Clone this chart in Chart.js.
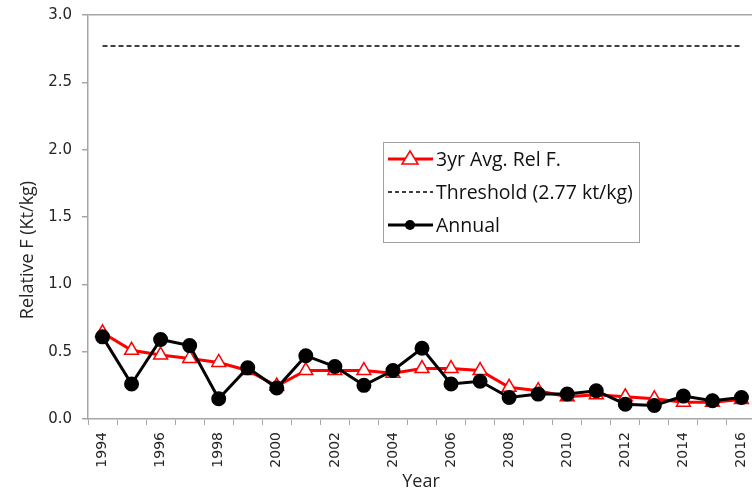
<!DOCTYPE html>
<html>
<head>
<meta charset="utf-8">
<script src="https://cdn.jsdelivr.net/npm/chart.js@4.4.1/dist/chart.umd.min.js"></script>
<style>
  html, body { margin: 0; padding: 0; background: #fff; overflow: hidden; }
  #wrap { width: 752px; height: 492px; overflow: hidden; }
</style>
</head>
<body>
<div id="wrap"><canvas id="myChart" width="756" height="492"></canvas></div>
<script>
// chart data
var years = ['1994','1995','1996','1997','1998','1999','2000','2001','2002','2003','2004','2005',
             '2006','2007','2008','2009','2010','2011','2012','2013','2014','2015','2016'];
var avg3yr = [0.64, 0.51, 0.475, 0.45, 0.42, 0.36, 0.245, 0.36, 0.36, 0.36, 0.34, 0.375,
              0.375, 0.36, 0.235, 0.21, 0.165, 0.18, 0.165, 0.15, 0.125, 0.125, 0.145];
var annual = [0.61, 0.26, 0.59, 0.545, 0.15, 0.38, 0.23, 0.47, 0.39, 0.25, 0.36, 0.525,
              0.26, 0.28, 0.16, 0.185, 0.185, 0.21, 0.11, 0.10, 0.17, 0.135, 0.16];
var threshold = 2.77;
var thresholdLine = years.map(function () { return threshold; });
var legendLabels = ['3yr Avg. Rel F.', 'Threshold (2.77 kt/kg)', 'Annual'];
var xTitle = 'Year';
var yTitle = 'Relative F (Kt/kg)';

var axisGray = '#a6a6a6';
var textCol = '#262626';
var font = '"Open Sans", sans-serif';
var tickFont = '"DejaVu Sans", Verdana, sans-serif';

// legend box + axis titles, drawn like the excel original
var boxLegend = {
    id: 'boxLegend',
    afterDraw: function (chart) {
        var c = chart.ctx;
        var x = 383, y = 142, w = 256, h = 100;
        c.save();
        c.fillStyle = '#fff';
        c.fillRect(x, y, w, h);
        c.strokeStyle = '#a0a0a0';
        c.lineWidth = 1;
        c.strokeRect(x + 0.5, y + 0.5, w, h);
        c.font = '19.5px ' + font;
        c.textBaseline = 'middle';
        var rows = [159, 192, 225];
        for (var i = 0; i < 3; i++) {
            var ry = rows[i];
            c.beginPath();
            if (i === 1) {
                c.setLineDash([4, 3]);
                c.lineWidth = 1.5;
                c.strokeStyle = '#000';
            } else {
                c.setLineDash([]);
                c.lineWidth = 3;
                c.strokeStyle = i === 0 ? '#ff0000' : '#000';
            }
            c.moveTo(388, ry);
            c.lineTo(433, ry);
            c.stroke();
            c.setLineDash([]);
            if (i === 0) {
                c.beginPath();
                c.moveTo(410, ry - 8);
                c.lineTo(418, ry + 5);
                c.lineTo(402, ry + 5);
                c.closePath();
                c.fillStyle = '#fff';
                c.fill();
                c.lineWidth = 1.5;
                c.strokeStyle = '#ff0000';
                c.stroke();
            } else if (i === 2) {
                c.beginPath();
                c.arc(410, ry, 5, 0, Math.PI * 2);
                c.fillStyle = '#000';
                c.fill();
            }
            c.fillStyle = '#111';
            c.fillText(legendLabels[i], 436, ry + 1);
        }

        // axis titles
        c.fillStyle = textCol;
        c.font = '18px ' + font;
        c.textAlign = 'center';
        c.textBaseline = 'middle';
        c.fillText(xTitle, 421, 482);
        c.translate(28, 250);
        c.rotate(-Math.PI / 2);
        c.fillText(yTitle, 0, 0);
        c.restore();
    }
};

var ctx = document.getElementById('myChart').getContext('2d');

var myChart = new Chart(ctx, {
    type: 'line',
    data: {
        labels: years,
        datasets: [{
            label: legendLabels[0],
            data: avg3yr,
            borderColor: '#ff0000',
            borderWidth: 3,
            pointStyle: 'triangle',
            pointRadius: 8,
            pointBackgroundColor: '#ffffff',
            pointBorderColor: '#ff0000',
            pointBorderWidth: 1.5,
            tension: 0,
            order: 1
        }, {
            label: legendLabels[1],
            data: thresholdLine,
            borderColor: '#000',
            borderWidth: 1.5,
            borderDash: [5, 3],
            pointRadius: 0,
            order: 2
        }, {
            label: legendLabels[2],
            data: annual,
            borderColor: '#000',
            borderWidth: 3,
            pointStyle: 'circle',
            pointRadius: 6,
            pointBackgroundColor: '#000',
            pointBorderColor: '#000',
            tension: 0,
            order: 0
        }]
    },
    options: {
        responsive: false,
        animation: false,
        layout: { autoPadding: false, padding: { top: 15, right: 0, left: 0, bottom: 0 } },
        plugins: {
            legend: { display: false },
            tooltip: { enabled: false }
        },
        scales: {
            x: {
                offset: true,
                grid: {
                    offset: true,
                    drawOnChartArea: false,
                    color: axisGray,
                    tickLength: 6
                },
                border: { color: axisGray, width: 1.5 },
                ticks: {
                    autoSkip: false,
                    maxRotation: 90,
                    minRotation: 90,
                    padding: 7,
                    color: textCol,
                    font: { family: tickFont, size: 14 },
                    callback: function (val, i) { return i % 2 === 0 ? years[i] : ''; }
                },
                afterFit: function (s) {
                    s.height = 73;
                    s.paddingLeft = 0;
                    s.paddingRight = 0;
                }
            },
            y: {
                min: 0,
                max: 3,
                ticks: {
                    stepSize: 0.5,
                    color: textCol,
                    padding: 10,
                    font: { family: tickFont, size: 15 },
                    callback: function (v) { return v.toFixed(1); }
                },
                grid: {
                    color: function (c) { return c.tick && c.tick.value === 3 ? axisGray : 'rgba(0,0,0,0)'; },
                    tickColor: axisGray,
                    tickLength: 6,
                    lineWidth: 1.5
                },
                border: { color: axisGray, width: 1.5 },
                afterFit: function (s) {
                    s.width = 88;
                    s.paddingTop = 0;
                    s.paddingBottom = 0;
                }
            }
        }
    },
    plugins: [boxLegend]
});
</script>
</body>
</html>
